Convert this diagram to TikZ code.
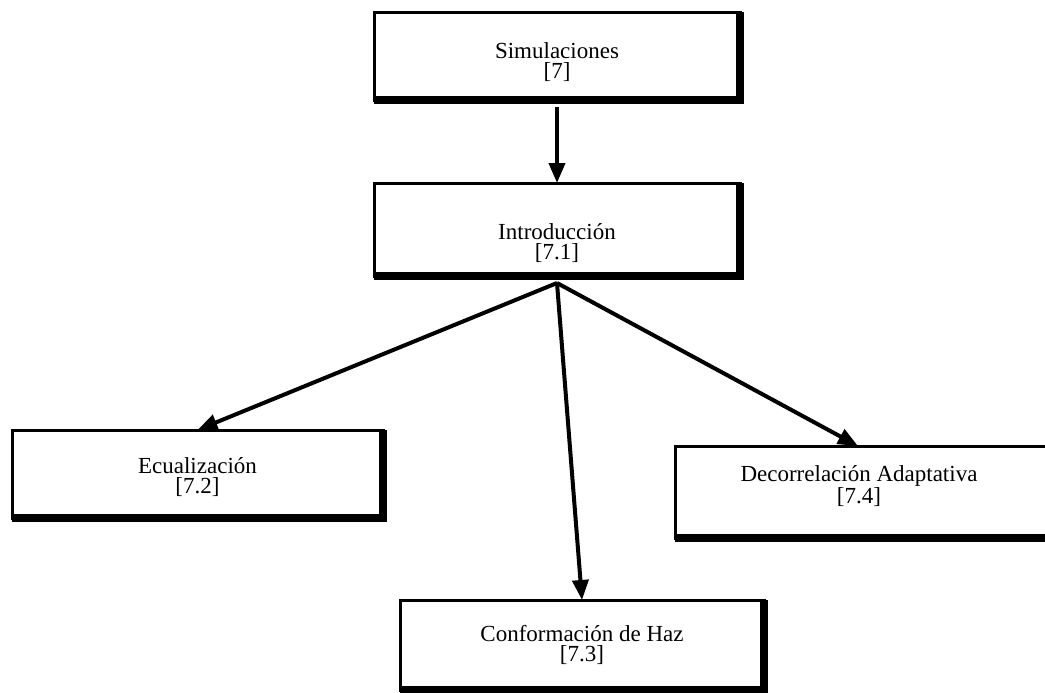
\documentclass[tikz,border=0pt]{standalone}
\usepackage{fontspec}
\setmainfont{Liberation Serif}
\usetikzlibrary{arrows.meta}
\tikzset{
  bloque/.style={draw, line width=1.5pt, outer sep=0pt},
  texto/.style={align=center, inner sep=0pt, font=\fontsize{11.5}{10}\selectfont},
  sombra/.style={line width=3.8pt, xshift=1pt, yshift=-2pt},
  flecha/.style={line width=2pt, -{Triangle[length=10pt,width=8pt]}}
}
\begin{document}
\begin{tikzpicture}[x=0.5pt,y=-0.5pt]
\useasboundingbox (0,0) rectangle (1045,692);
\node[bloque, minimum width=183pt, minimum height=44pt,
  label={[texto, name=simt, yshift=-3pt]center:Simulaciones\\{[7]}}] (sim) at (557,56) {};
\node[bloque, minimum width=183pt, minimum height=46.5pt,
  label={[texto, name=introt, yshift=-7pt]center:Introducción\\{[7.1]}}] (intro) at (557,229.5) {};
\node[bloque, minimum width=185.5pt, minimum height=44pt,
  label={[texto, name=ecut, yshift=-1.5pt]center:Ecualización\\{[7.2]}}] (ecu) at (197.5,474) {};
\node[bloque, minimum width=182pt, minimum height=45pt,
  label={[texto, name=conft]center:Conformación de Haz\\{[7.3]}}] (conf) at (582,645) {};
\node[bloque, minimum width=191pt, minimum height=46pt,
  label={[texto, name=decot, xshift=-3.5pt, yshift=3pt]center:Decorrelación Adaptativa\\{[7.4]}}] (deco) at (866,492) {};
\foreach \n in {sim,intro,ecu,conf,deco}
  \draw[sombra] (\n.south west) -- (\n.south east) -- (\n.north east);
\draw[flecha] ([yshift=-3.5pt]sim.south) -- (intro.north);
\draw[flecha] ([yshift=-3.5pt]intro.south) -- (ecu.north);
\draw[flecha] ([yshift=-3.5pt]intro.south) -- (conf.north);
\draw[flecha] ([yshift=-3.5pt]intro.south) -- ([xshift=-4pt]deco.north);
\end{tikzpicture}
\end{document}
